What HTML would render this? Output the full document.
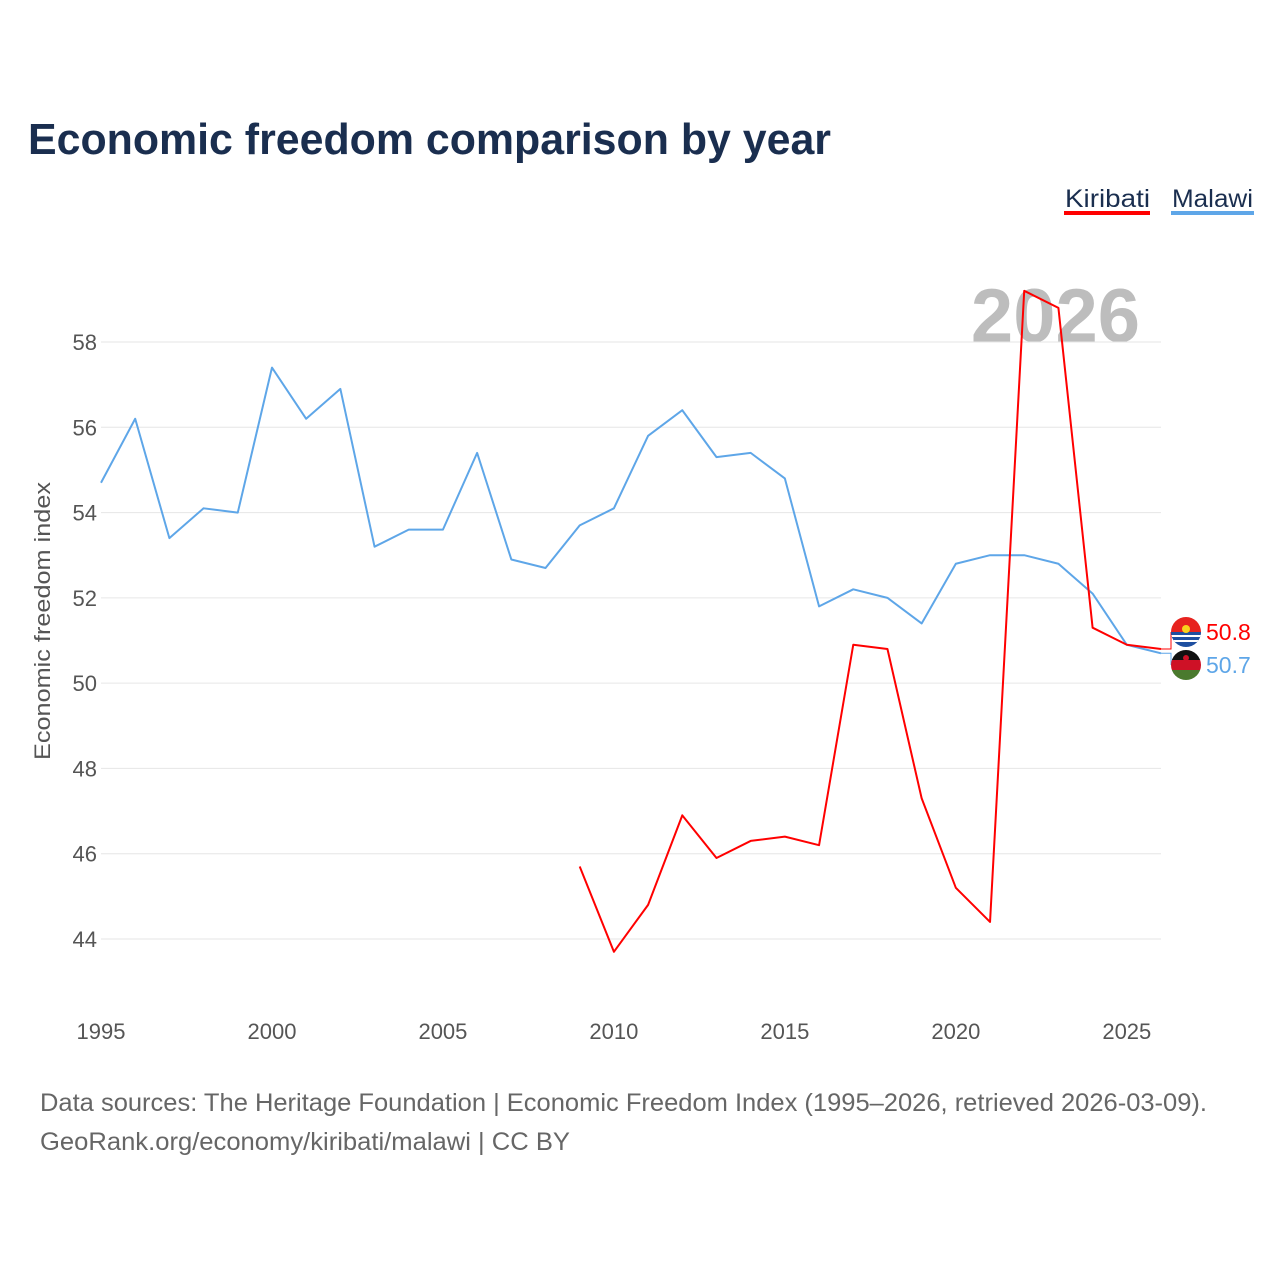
<!DOCTYPE html>
<html><head><meta charset="utf-8"><style>
body{margin:0;background:#fff;font-family:"Liberation Sans",sans-serif}
svg{display:block}
</style></head><body>
<svg width="1280" height="1280" viewBox="0 0 1280 1280">
<text x="28" y="154" font-size="44" font-weight="bold" fill="#1a2e4f" textLength="803" lengthAdjust="spacingAndGlyphs">Economic freedom comparison by year</text>
<g>
<text x="1065" y="207" font-size="25" fill="#1a2e4f" textLength="85" lengthAdjust="spacingAndGlyphs">Kiribati</text>
<rect x="1064" y="211" width="86" height="4" fill="#ff0000"/>
<text x="1172" y="207" font-size="25" fill="#1a2e4f" textLength="81" lengthAdjust="spacingAndGlyphs">Malawi</text>
<rect x="1171" y="211" width="83" height="4" fill="#5ea6e8"/>
</g>
<text x="1140" y="342" font-size="76" font-weight="bold" fill="#bdbdbd" text-anchor="end">2026</text>
<g id="grid"></g><g id="xt"></g><g id="lines"></g><g id="ends"></g>
<text transform="translate(50,621) rotate(-90)" font-size="22" fill="#555" text-anchor="middle" textLength="278" lengthAdjust="spacingAndGlyphs">Economic freedom index</text>
<text x="40" y="1111" font-size="25" fill="#666" textLength="1167" lengthAdjust="spacingAndGlyphs">Data sources: The Heritage Foundation | Economic Freedom Index (1995–2026, retrieved 2026-03-09).</text>
<text x="40" y="1150" font-size="25" fill="#666" textLength="530" lengthAdjust="spacingAndGlyphs">GeoRank.org/economy/kiribati/malawi | CC BY</text>
</svg>
<script>
const yTicks=[44,46,48,50,52,54,56,58];
const xTicks=[1995,2000,2005,2010,2015,2020,2025];
const malawiYears=[1995,1996,1997,1998,1999,2000,2001,2002,2003,2004,2005,2006,2007,2008,2009,2010,2011,2012,2013,2014,2015,2016,2017,2018,2019,2020,2021,2022,2023,2024,2025,2026];
const malawiValues=[54.7,56.2,53.4,54.1,54.0,57.4,56.2,56.9,53.2,53.6,53.6,55.4,52.9,52.7,53.7,54.1,55.8,56.4,55.3,55.4,54.8,51.8,52.2,52.0,51.4,52.8,53.0,53.0,52.8,52.1,50.9,50.7];
const kiribatiYears=[2009,2010,2011,2012,2013,2014,2015,2016,2017,2018,2019,2020,2021,2022,2023,2024,2025,2026];
const kiribatiValues=[45.7,43.7,44.8,46.9,45.9,46.3,46.4,46.2,50.9,50.8,47.3,45.2,44.4,59.2,58.8,51.3,50.9,50.8];
const NS="http://www.w3.org/2000/svg";
const X=y=>101+(y-1995)*(1161-101)/31;
const Y=v=>342+(58-v)*(939-342)/14;
function mk(t,a,p){const e=document.createElementNS(NS,t);for(const k in a)e.setAttribute(k,a[k]);document.getElementById(p).appendChild(e);return e;}
yTicks.forEach(v=>{
 const l=mk('line',{x1:101,x2:1161,y1:Y(v),y2:Y(v),stroke:'#e6e6e6','stroke-width':1},'grid');
 
 
 const t=mk('text',{x:97,y:Y(v)+8,'font-size':22,fill:'#555','text-anchor':'end'},'grid');t.textContent=v;
 
 
});
xTicks.forEach(v=>{
 const t=mk('text',{x:X(v),y:1039,'font-size':22,fill:'#555','text-anchor':'middle'},'xt');t.textContent=v;
 
 
});
function line(ys,vs,c,n){
 const p=mk('polyline',{points:ys.map((y,i)=>X(y)+','+Y(vs[i])).join(' '),fill:'none',stroke:c,'stroke-width':2,'stroke-linejoin':'round'},'lines');
 
 
}
line(malawiYears,malawiValues,'#5ea6e8','malawi-line');
line(kiribatiYears,kiribatiValues,'#ff0000','kiribati-line');
function endLabel(vs,c,ly,n,flag){
 const v=vs[vs.length-1],x=X(2026),y=Y(v);
 mk('polyline',{points:`${x},${y} ${x+10},${y} ${x+10},${ly}`,fill:'none',stroke:c,'stroke-width':1},'ends');
 const g=mk('g',{},'ends');
 
 
 flag(g,1186,ly);
 const t=mk('text',{x:1206,y:ly+8,'font-size':23,fill:c},'ends');t.textContent=v.toFixed(1);
 
 
}
endLabel(kiribatiValues,'#ff0000',632,'kiribati',(g,cx,cy)=>{
 g.innerHTML=`<clipPath id="ck"><circle cx="${cx}" cy="${cy}" r="15"/></clipPath><g clip-path="url(#ck)"><rect x="${cx-15}" y="${cy-15}" width="30" height="15" fill="#e7231f"/><rect x="${cx-15}" y="${cy}" width="30" height="15" fill="#1e4fa0"/><path d="M${cx-15} ${cy+4}h30M${cx-15} ${cy+9}h30" stroke="#fff" stroke-width="2"/><circle cx="${cx}" cy="${cy-3}" r="4" fill="#f8d21c"/></g>`;
});
endLabel(malawiValues,'#5ea6e8',665,'malawi',(g,cx,cy)=>{
 g.innerHTML=`<clipPath id="cm"><circle cx="${cx}" cy="${cy}" r="15"/></clipPath><g clip-path="url(#cm)"><rect x="${cx-15}" y="${cy-15}" width="30" height="10" fill="#111"/><rect x="${cx-15}" y="${cy-5}" width="30" height="10" fill="#ce1126"/><rect x="${cx-15}" y="${cy+5}" width="30" height="10" fill="#4a7a2e"/><circle cx="${cx}" cy="${cy-7}" r="3" fill="#ce1126"/></g>`;
});
</script>
</body></html>
